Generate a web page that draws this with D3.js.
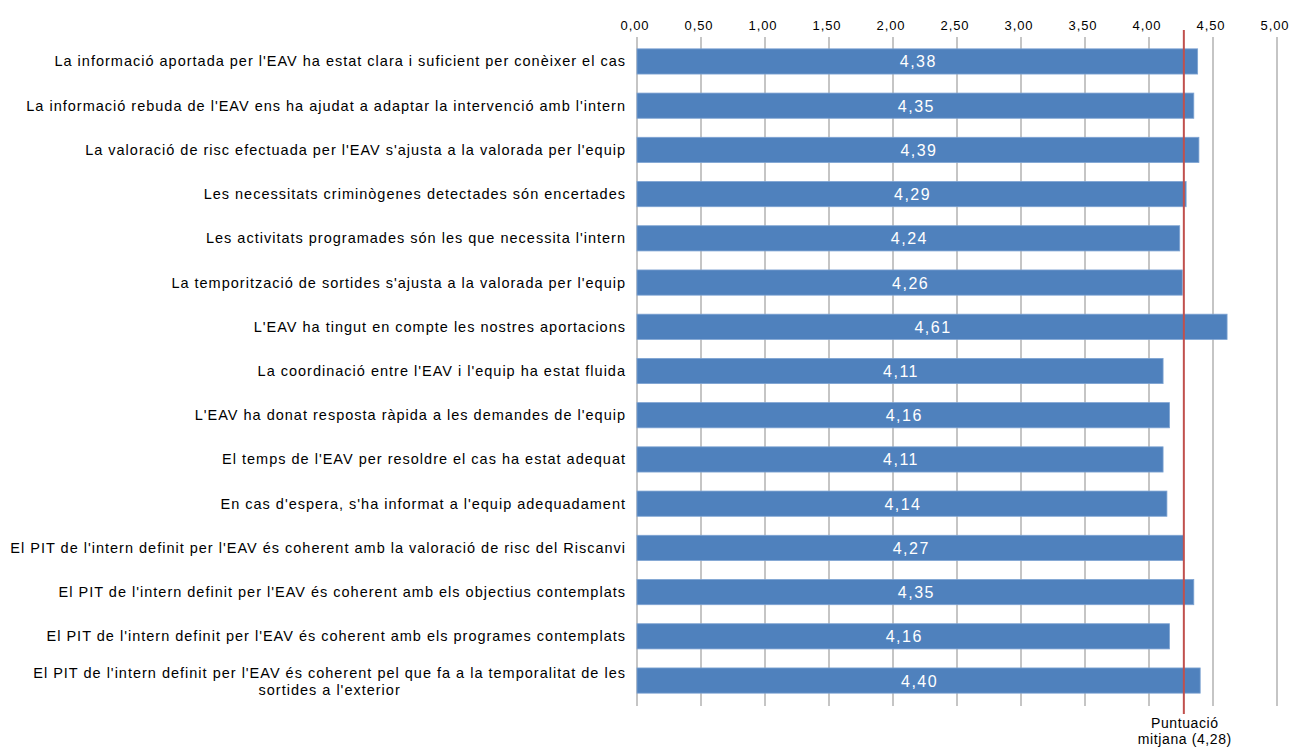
<!DOCTYPE html>
<html><head><meta charset="utf-8">
<script src="https://cdn.jsdelivr.net/npm/d3@7"></script>
<style>body{margin:0;background:#fff}svg{display:block}</style>
</head><body>
<script>
const categories = [
 ["La informació aportada per l'EAV ha estat clara i suficient per conèixer el cas"],
 ["La informació rebuda de l'EAV ens ha ajudat a adaptar la intervenció amb l'intern"],
 ["La valoració de risc efectuada per l'EAV s'ajusta a la valorada per l'equip"],
 ["Les necessitats criminògenes detectades són encertades"],
 ["Les activitats programades són les que necessita l'intern"],
 ["La temporització de sortides s'ajusta a la valorada per l'equip"],
 ["L'EAV ha tingut en compte les nostres aportacions"],
 ["La coordinació entre l'EAV i l'equip ha estat fluida"],
 ["L'EAV ha donat resposta ràpida a les demandes de l'equip"],
 ["El temps de l'EAV per resoldre el cas ha estat adequat"],
 ["En cas d'espera, s'ha informat a l'equip adequadament"],
 ["El PIT de l'intern definit per l'EAV és coherent amb la valoració de risc del Riscanvi"],
 ["El PIT de l'intern definit per l'EAV és coherent amb els objectius contemplats"],
 ["El PIT de l'intern definit per l'EAV és coherent amb els programes contemplats"],
 ["El PIT de l'intern definit per l'EAV és coherent pel que fa a la temporalitat de les", "sortides a l'exterior"]
];
const values = [4.38,4.35,4.39,4.29,4.24,4.26,4.61,4.11,4.16,4.11,4.14,4.27,4.35,4.16,4.40];
const ticks = [0,0.5,1,1.5,2,2.5,3,3.5,4,4.5,5];
const meanValue = 4.28;
const meanLabel = ["Puntuació", "mitjana (4,28)"];

const fmt = v => v.toFixed(2).replace('.', ',');
const W = 1294, H = 749;
const svg = d3.select("body").append("svg").attr("width", W).attr("height", H)
  .style("font-family", "'Liberation Sans', Arial, sans-serif");

const x = d3.scaleLinear().domain([0,5]).range([637,1277]);
const y = d3.scaleBand().domain(d3.range(values.length)).range([40, 702]).paddingInner(0.43).paddingOuter(0.2);

// gridlines
svg.append("g").selectAll("line").data(ticks).join("line")
  .attr("x1", d => x(d)).attr("x2", d => x(d))
  .attr("y1", 37).attr("y2", 706)
  .attr("stroke", "#a6a6a6").attr("stroke-width", 1.3);

// top axis labels
svg.append("g").selectAll("text").data(ticks).join("text")
  .attr("x", d => x(d) - 2).attr("y", 30)
  .attr("text-anchor", "middle").attr("font-size", 13).attr("letter-spacing", 0.9).attr("fill", "#000")
  .text(d => fmt(d));

// bars
svg.append("g").selectAll("rect").data(values).join("rect")
  .attr("x", x(0)).attr("y", (d,i) => y(i))
  .attr("width", d => x(d) - x(0)).attr("height", y.bandwidth())
  .attr("fill", "#4F81BD").attr("stroke", "#7ea3d2").attr("stroke-width", 0.8);

// value labels
svg.append("g").selectAll("text").data(values).join("text")
  .attr("x", d => (x(0) + x(d)) / 2 + 1).attr("y", (d,i) => y(i) + y.bandwidth()/2 + 6)
  .attr("text-anchor", "middle").attr("font-size", 16).attr("letter-spacing", 1.5).attr("fill", "#fff")
  .text(d => fmt(d));

// category labels
const cl = svg.append("g").selectAll("text").data(categories).join("text")
  .attr("font-size", 14.5).attr("letter-spacing", 1.0).attr("fill", "#000").attr("text-anchor", "end");
cl.each(function(lines, i) {
  const t = d3.select(this);
  const cy = y(i) + y.bandwidth()/2;
  if (lines.length === 1) {
    t.append("tspan").attr("x", 626).attr("y", cy + 5).text(lines[0]);
  } else {
    const first = t.append("tspan").attr("x", 626).attr("y", cy - 3).text(lines[0]);
    const bb = first.node().getBBox();
    t.append("tspan").attr("x", bb.x + bb.width / 2).attr("y", cy + 14).attr("text-anchor", "middle").text(lines[1]);
  }
});

// mean line
svg.append("line").attr("x1", x(meanValue) - 1).attr("x2", x(meanValue) - 1)
  .attr("y1", 30).attr("y2", 714).attr("stroke", "#C0504D").attr("stroke-width", 2);

svg.append("text").attr("text-anchor", "middle").attr("font-size", 14).attr("letter-spacing", 0.6).attr("fill", "#000")
  .selectAll("tspan").data(meanLabel).join("tspan")
  .attr("x", x(meanValue)).attr("y", (d,i) => 728 + i * 16).text(d => d);
</script>
</body></html>
